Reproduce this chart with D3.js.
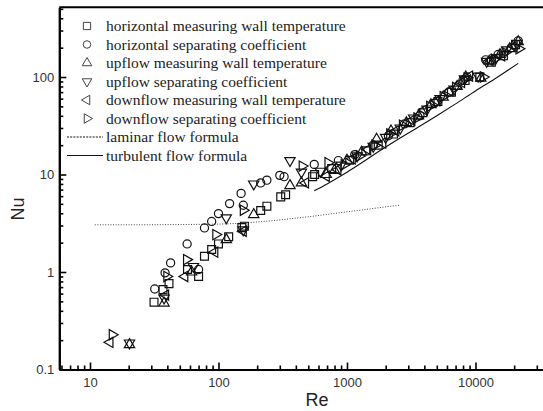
<!DOCTYPE html>
<html>
<head>
<meta charset="utf-8">
<script src="https://cdn.jsdelivr.net/npm/d3@7"></script>
<style>
  body { margin: 0; background: #fff; }
  svg { display: block; }
  .tick text { font-family: "Liberation Sans", Arial, sans-serif; font-size: 13px; fill: #333; }
</style>
</head>
<body>
<div id="chart"></div>
<script>
// horizontal measuring wall temperature (squares)
const hmwtRe = [31.5, 37, 41.2, 57.4, 70, 77.8, 88.5, 100, 120, 152, 159, 213, 238, 305, 333, 540, 560, 760, 1050, 1400, 1750, 2300, 3100, 3900, 5100, 6500, 8300, 10800, 13300, 16500, 20500]
const hmwtNu = [0.49, 0.66, 0.76, 1.06, 0.9, 1.45, 1.7, 1.94, 2.3, 2.85, 2.95, 4.27, 4.73, 5.9, 6.2, 9.5, 10, 11.5, 14, 17.5, 20, 26, 34, 43, 56, 70, 92, 100, 142, 165, 215]
// horizontal separating coefficient (circles)
const hscRe = [31.9, 38.4, 42.4, 57, 70, 77.8, 88.5, 100, 122, 150, 156, 213, 238, 300, 324, 556, 857, 1150, 1600, 2100, 2800, 3700, 4800, 6200, 8000, 8600, 12000, 15000, 19000, 21500]
const hscNu = [0.67, 0.98, 1.24, 1.94, 1.06, 2.83, 3.3, 3.97, 5.03, 6.4, 4.84, 8.2, 8.75, 9.8, 9.5, 12.7, 13.9, 16, 20, 25, 33, 40, 54, 70, 93, 100, 150, 170, 200, 235]
// upflow measuring wall temperature (up triangles)
const umwtRe = [20.3, 37.7, 61.8, 115, 188, 360, 442, 690, 800, 1000, 1300, 1700, 2200, 2900, 3600, 4500, 5600, 7200, 8400, 11000, 12800, 15500, 18500, 21500]
const umwtNu = [0.18, 0.48, 1.0, 2.15, 3.88, 7.7, 8.2, 10, 11, 14, 17, 23, 28, 34, 40, 52, 62, 80, 100, 97, 145, 170, 195, 230]
// upflow separating coefficient (down triangles)
const uscRe = [20.3, 37.7, 63.8, 115, 156, 188, 360, 442, 620, 900, 1200, 1600, 2000, 2600, 3300, 4200, 5300, 6800, 8200, 10500, 12200, 14500, 17500, 21000]
const uscNu = [0.187, 0.54, 1.14, 3.6, 2.7, 8.0, 13.9, 10.6, 10.8, 12.5, 15.5, 19.5, 24, 30, 38, 47, 60, 75, 96, 102, 145, 158, 190, 222]
// downflow measuring wall temperature (left triangles)
const dmwtRe = [14.3, 38.8, 54.7, 93.6, 156, 476, 690, 850, 1100, 1450, 1900, 2400, 3200, 4000, 5000, 6300, 7800, 9000, 13000, 16000, 20000]
const dmwtNu = [0.19, 0.58, 0.9, 1.6, 2.62, 8.2, 9.6, 11.2, 14.5, 18, 21, 28, 36, 46, 57, 72, 88, 102, 148, 165, 205]
// downflow separating coefficient (right triangles)
const dscRe = [14.9, 39.6, 56.4, 95.3, 156, 448, 711, 950, 1250, 1650, 2150, 2700, 3500, 4400, 5600, 7000, 8600, 11500, 14000, 17000, 21800]
const dscNu = [0.227, 0.9, 1.34, 2.42, 4.3, 12.2, 13.2, 12.6, 15.5, 20, 26, 32, 38, 50, 63, 78, 98, 100, 152, 178, 195]

// formula curves
const lamRe = [10.9, 20, 40, 70, 100, 150, 213, 300, 400, 539, 700, 1000, 1400, 1855, 2600]
const lamNu = [3.05, 3.05, 3.06, 3.08, 3.1, 3.17, 3.28, 3.42, 3.57, 3.73, 3.9, 4.14, 4.38, 4.6, 4.85]
const turbRe = [556, 700, 900, 1200, 1800, 2500, 3500, 5000, 7000, 10000, 14000, 18000, 21500]
const turbNu = [6.8, 8.0, 9.7, 12.3, 17.5, 23, 30, 40, 53, 72, 95, 118, 138]

const xTicks = [10, 100, 1000, 10000]
const yTicks = [0.1, 1, 10, 100]

const legendLabels = [
  "horizontal measuring wall temperature",
  "horizontal separating coefficient",
  "upflow measuring wall temperature",
  "upflow separating coefficient",
  "downflow measuring wall temperature",
  "downflow separating coefficient",
  "laminar flow formula",
  "turbulent flow formula"
]

const W = 543, H = 411

const svg = d3.select("#chart").append("svg")
  .attr("width", W)
  .attr("height", H)

const x = d3.scaleLog().domain([5.77, 50000]).range([59.3, 565.3])
const y = d3.scaleLog().domain([0.1, 520]).range([369.5, 7.2])

// minor tick values for each decade
function minors(lo, hi) {
  let out = []
  for (let p = Math.floor(Math.log10(lo)); p <= Math.ceil(Math.log10(hi)); p++) {
    for (let m = 2; m <= 9; m++) {
      const v = m * Math.pow(10, p)
      if (v >= lo && v <= hi) out.push(v)
    }
  }
  return out
}

const shapes = [
  { type: d3.symbolSquare, size: 62, rot: 0 },
  { type: d3.symbolCircle, size: 52, rot: 0 },
  { type: d3.symbolTriangle, size: 46, rot: 0 },
  { type: d3.symbolTriangle, size: 46, rot: 180 },
  { type: d3.symbolTriangle, size: 46, rot: -90 },
  { type: d3.symbolTriangle, size: 46, rot: 90 }
]

const series = [
  [hmwtRe, hmwtNu], [hscRe, hscNu], [umwtRe, umwtNu],
  [uscRe, uscNu], [dmwtRe, dmwtNu], [dscRe, dscNu]
]

// formula lines
const line = d3.line().x(d => x(d[0])).y(d => y(d[1])).curve(d3.curveMonotoneX)

svg.append("path")
  .datum(lamRe.map((r, i) => [r, lamNu[i]]))
  .attr("d", line)
  .attr("fill", "none")
  .attr("stroke", "#333")
  .attr("stroke-width", 0.9)
  .attr("stroke-dasharray", "1,1.6")

svg.append("path")
  .datum(turbRe.map((r, i) => [r, turbNu[i]]))
  .attr("d", line)
  .attr("fill", "none")
  .attr("stroke", "#111")
  .attr("stroke-width", 1.1)

// data markers
series.forEach((s, k) => {
  const sh = shapes[k]
  const sym = d3.symbol().type(sh.type).size(sh.size)
  svg.append("g").selectAll("path")
    .data(s[0].map((r, i) => [r, s[1][i]]))
    .join("path")
      .attr("d", sym)
      .attr("transform", d => `translate(${x(d[0])},${y(d[1])}) rotate(${sh.rot})`)
      .attr("fill", "none")
      .attr("stroke", "#111")
      .attr("stroke-width", 1.2)
})

// axes
const xMajor = d3.axisBottom(x).tickValues(xTicks).tickFormat(d3.format("d")).tickSize(-7).tickSizeOuter(0).tickPadding(8)
const xMinor = d3.axisBottom(x).tickValues(minors(6, 50000)).tickFormat("").tickSize(-4).tickSizeOuter(0)
const yMajor = d3.axisLeft(y).tickValues(yTicks).tickFormat(d => d < 1 ? d.toString() : d3.format("d")(d)).tickSize(-7).tickSizeOuter(0).tickPadding(5)
const yMinor = d3.axisLeft(y).tickValues(minors(0.2, 500)).tickFormat("").tickSize(-4).tickSizeOuter(0)

const gx = svg.append("g").attr("transform", `translate(0,${y(0.1)})`)
gx.call(xMinor)
gx.append("g").call(xMajor)
const gy = svg.append("g").attr("transform", `translate(${x(5.77)},0)`)
gy.call(yMinor)
gy.append("g").call(yMajor)

svg.selectAll(".domain").attr("stroke", "#000").attr("stroke-width", 2)
svg.selectAll(".tick line").attr("stroke", "#000").attr("stroke-width", 1.6)

// top frame
svg.append("line")
  .attr("x1", x(5.77)).attr("x2", x(50000))
  .attr("y1", y(520)).attr("y2", y(520))
  .attr("stroke", "#000").attr("stroke-width", 2)

// axis titles
svg.append("text")
  .attr("x", 317).attr("y", 406)
  .attr("text-anchor", "middle")
  .style("font-family", "Liberation Sans, Arial, sans-serif")
  .style("font-size", "18px")
  .attr("fill", "#222")
  .text("Re")

svg.append("text")
  .attr("transform", "translate(24,209) rotate(-90)")
  .attr("text-anchor", "middle")
  .style("font-family", "Liberation Sans, Arial, sans-serif")
  .style("font-size", "18px")
  .attr("fill", "#222")
  .text("Nu")

// legend
const lg = svg.append("g")
legendLabels.forEach((lab, i) => {
  const ly = 26 + i * 18.5
  if (i < 6) {
    const sh = shapes[i]
    lg.append("path")
      .attr("d", d3.symbol().type(sh.type).size(sh.size * 0.85)())
      .attr("transform", `translate(87,${ly}) rotate(${sh.rot})`)
      .attr("fill", "none")
      .attr("stroke", "#444")
      .attr("stroke-width", 1)
  } else {
    lg.append("line")
      .attr("x1", 67).attr("x2", 103)
      .attr("y1", ly).attr("y2", ly)
      .attr("stroke", "#111")
      .attr("stroke-width", i === 6 ? 1 : 1.2)
      .attr("stroke-dasharray", i === 6 ? "2,1.2" : null)
  }
  lg.append("text")
    .attr("x", 106).attr("y", ly).attr("dy", "0.35em")
    .style("font-family", "Liberation Serif, Times New Roman, serif")
    .style("font-size", "15.5px")
    .attr("fill", "#222")
    .text(lab)
})
</script>
</body>
</html>
